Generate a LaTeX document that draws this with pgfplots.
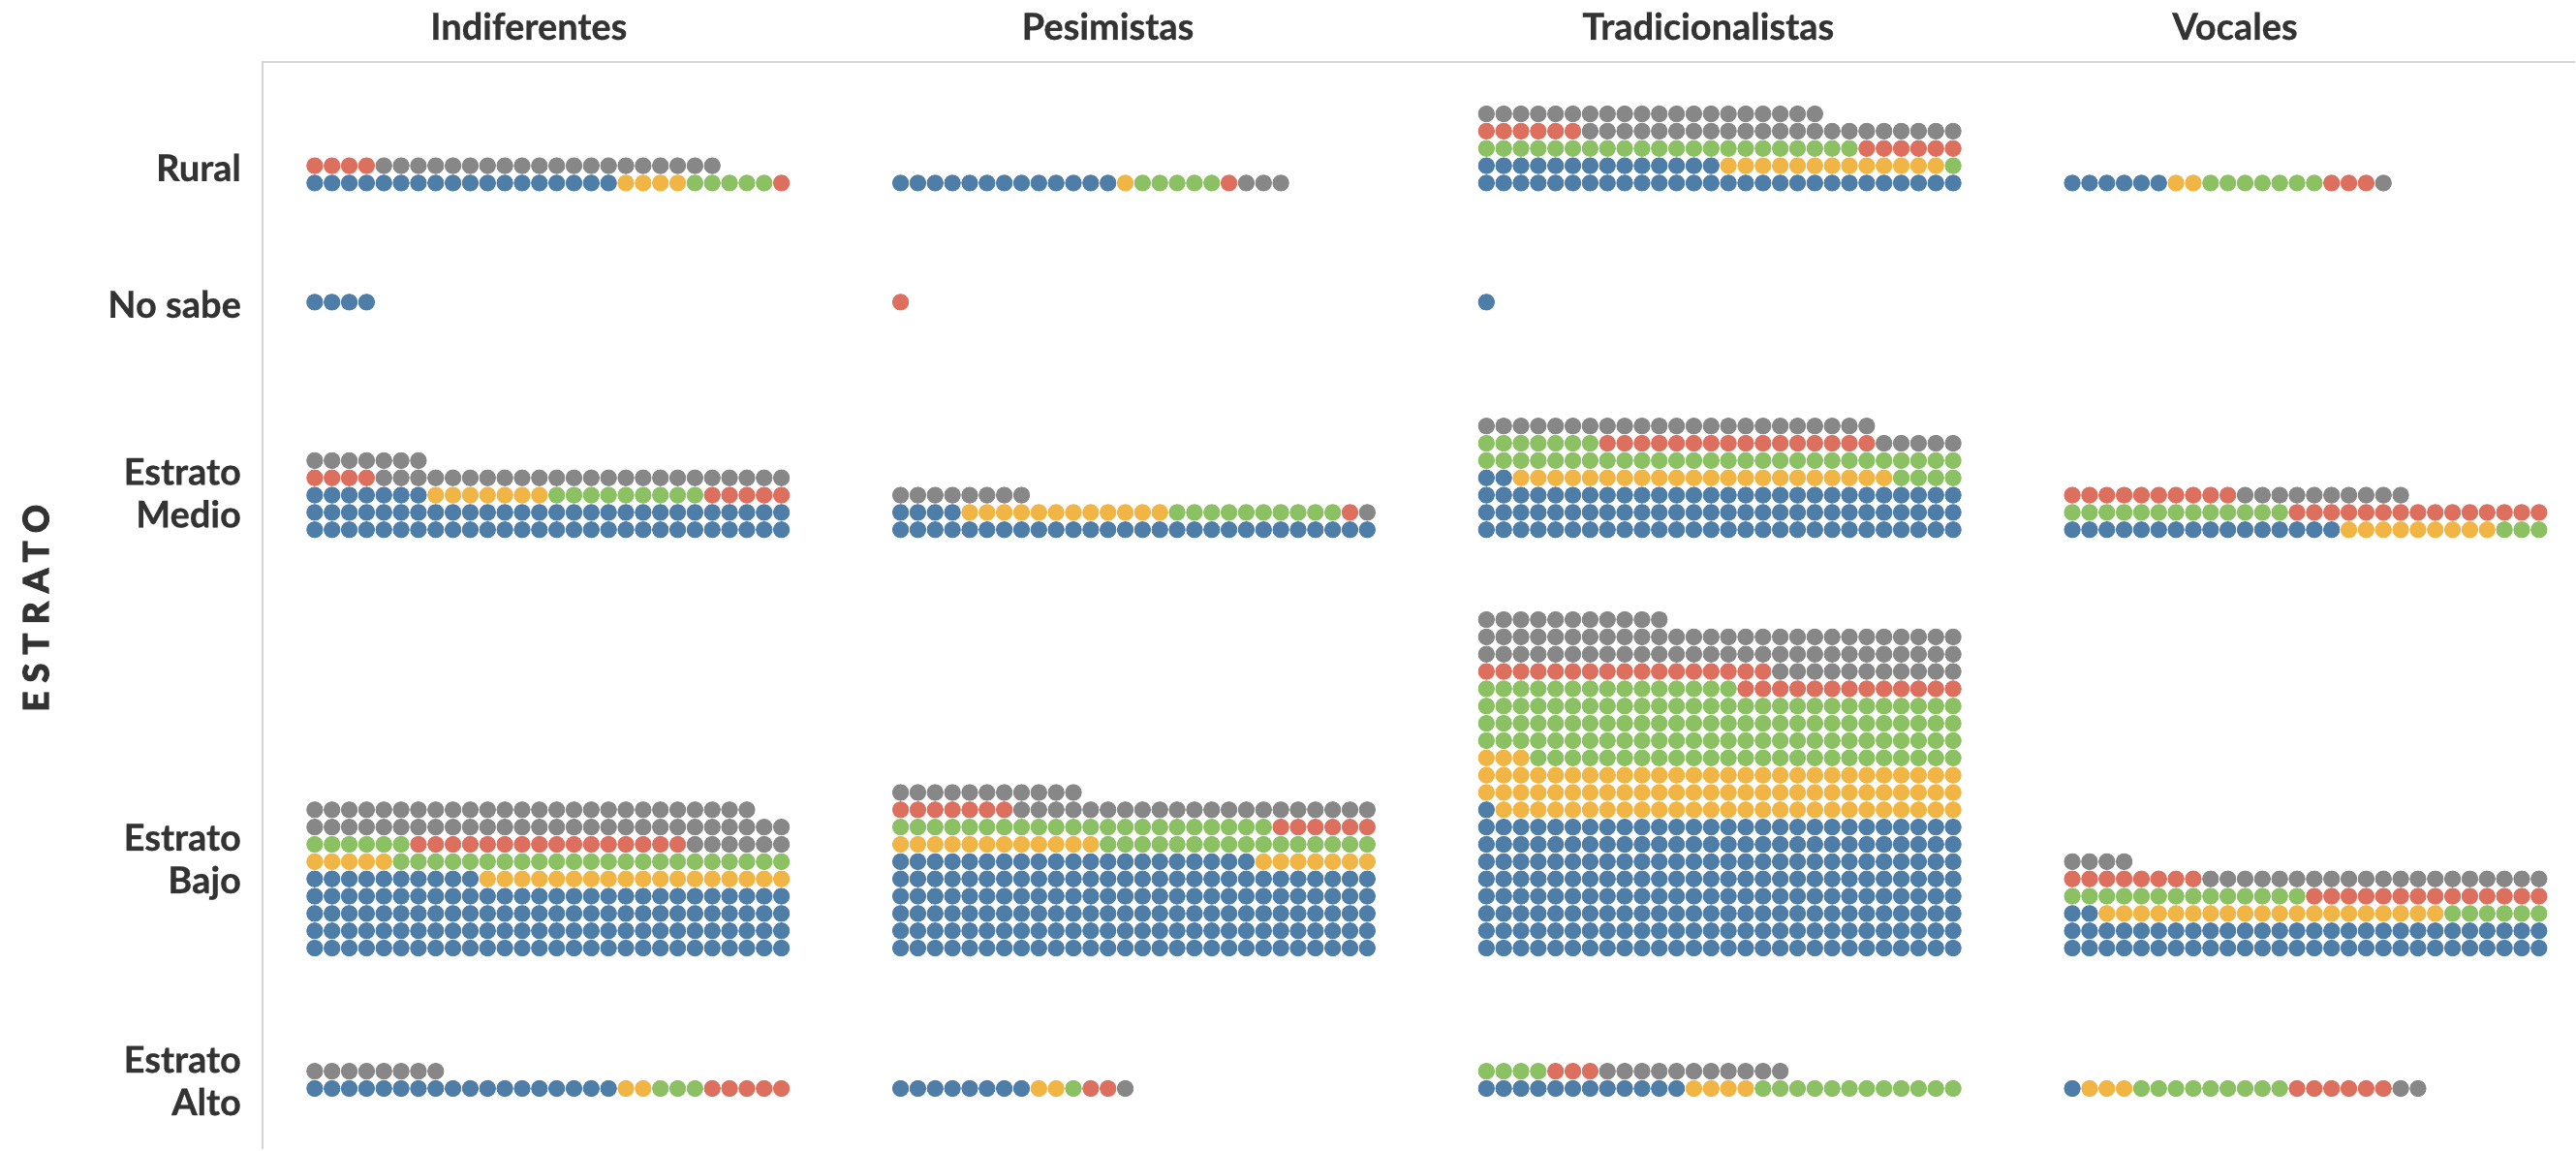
\documentclass[border=0pt]{standalone}
\usepackage{pgfplots}
\pgfplotsset{compat=1.18}
\usepackage{pgfplotstable}
\usepackage{fontspec}
\setmainfont{Lato}[BoldFeatures={FakeBold=0.6}]
\newfontfamily\spaced{Lato}[LetterSpace=26, BoldFeatures={FakeBold=4}]

\definecolor{cblue}{HTML}{4E7DA8}
\definecolor{cyellow}{HTML}{F1B545}
\definecolor{cgreen}{HTML}{8BC063}
\definecolor{cred}{HTML}{DD6F5E}
\definecolor{cgrey}{HTML}{878787}
\definecolor{txt}{HTML}{333333}
\definecolor{frame}{HTML}{D4D4D4}

% dot counts per panel: col = segment (0 Indiferentes .. 3 Vocales),
% base = pixel row of the lowest dot line (from the top)
\pgfplotstableread{
col base blue yellow green red grey
0 189 18 4 5 5 20
1 189 13 1 5 1 3
2 189 42 13 23 12 42
3 189 6 2 7 3 1
0 312 4 0 0 0 0
1 312 0 0 0 1 0
2 312 1 0 0 0 0
0 547 63 7 9 9 31
1 547 32 12 10 1 9
2 547 86 22 39 16 28
3 547 16 9 16 25 10
0 979 122 23 29 16 60
1 979 161 19 38 13 32
2 979 225 86 124 30 78
3 979 58 20 20 22 24
0 1124 18 2 3 5 8
1 1124 8 2 1 2 1
2 1124 12 4 16 3 11
3 1124 1 3 9 6 2
}\waffle

% lay the counts out as a 28-wide waffle, filled row by row from the bottom
\def\dotsblue{}\def\dotsyellow{}\def\dotsgreen{}\def\dotsred{}\def\dotsgrey{}
\newcount\dk \newcount\dend \newcount\dcx \newcount\dry \newcount\dstart
\newcommand\adddots[4]{%
  \dend=\numexpr\dstart+#2\relax
  \dk=\dstart
  \loop\ifnum\dk<\dend
    \dry=\numexpr(\dk+14)/28-1\relax
    \dcx=\numexpr\dk-28*\dry\relax
    \pgfmathsetmacro\xx{325+605*#3+17.85*\the\dcx}%
    \pgfmathsetmacro\yy{1187-#4+17.85*\the\dry}%
    \expandafter\xdef\csname dots#1\endcsname{\csname dots#1\endcsname(\xx,\yy)}%
    \advance\dk by 1
  \repeat
  \global\dstart=\dend
}
\foreach \i in {0,...,18}{%
  \pgfplotstablegetelem{\i}{col}\of\waffle \let\cc\pgfplotsretval
  \pgfplotstablegetelem{\i}{base}\of\waffle \let\bb\pgfplotsretval
  \global\dstart=0
  \foreach \c in {blue,yellow,green,red,grey}{%
    \pgfplotstablegetelem{\i}{\c}\of\waffle
    \adddots{\c}{\pgfplotsretval}{\cc}{\bb}%
  }%
}

\newcommand\lbl{\fontsize{19}{22}\selectfont\bfseries}

\begin{document}
\begin{tikzpicture}
\begin{axis}[
    scale only axis,
    width=1329.5pt, height=593.5pt,
    xmin=0, xmax=2659, ymin=0, ymax=1187,
    hide axis, clip=false,
]
\path (axis cs:0,0) rectangle (axis cs:2659,1187);
\draw[frame, line width=1.2pt] (axis cs:271,0) -- (axis cs:271,1123) -- (axis cs:2659,1123);

\edef\tmp{\noexpand\addplot[only marks, mark=*, mark size=4.1pt, color=cblue] coordinates {\dotsblue};}\tmp
\edef\tmp{\noexpand\addplot[only marks, mark=*, mark size=4.1pt, color=cyellow] coordinates {\dotsyellow};}\tmp
\edef\tmp{\noexpand\addplot[only marks, mark=*, mark size=4.1pt, color=cgreen] coordinates {\dotsgreen};}\tmp
\edef\tmp{\noexpand\addplot[only marks, mark=*, mark size=4.1pt, color=cred] coordinates {\dotsred};}\tmp
\edef\tmp{\noexpand\addplot[only marks, mark=*, mark size=4.1pt, color=cgrey] coordinates {\dotsgrey};}\tmp

\node[font=\lbl, text=txt] at (axis cs:546,1160) {Indiferentes};
\node[font=\lbl, text=txt] at (axis cs:1144,1160) {Pesimistas};
\node[font=\lbl, text=txt] at (axis cs:1764,1160) {Tradicionalistas};
\node[font=\lbl, text=txt] at (axis cs:2308,1160) {Vocales};

\node[font=\lbl, text=txt, anchor=east, align=right] at (axis cs:256,1014) {Rural};
\node[font=\lbl, text=txt, anchor=east, align=right] at (axis cs:256,873) {No sabe};
\node[font=\lbl, text=txt, anchor=east, align=right] at (axis cs:256,678) {Estrato\\Medio};
\node[font=\lbl, text=txt, anchor=east, align=right] at (axis cs:256,297) {Estrato\\Bajo};
\node[font=\lbl, text=txt, anchor=east, align=right] at (axis cs:256,71) {Estrato\\Alto};

\node[font=\fontsize{18}{22}\selectfont\spaced\bfseries, text=txt, rotate=90] at (axis cs:37,559) {ESTRATO};
\end{axis}
\end{tikzpicture}
\end{document}
